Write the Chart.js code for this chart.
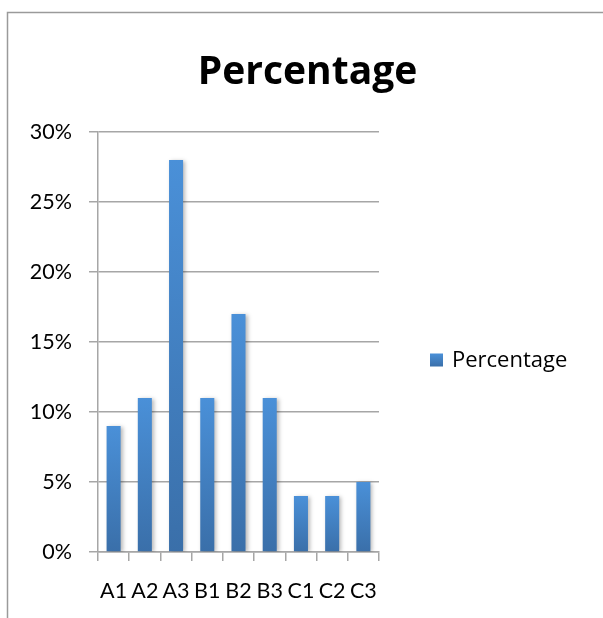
<!DOCTYPE html>
<html>
<head>
<meta charset="utf-8">
<script src="https://cdn.jsdelivr.net/npm/chart.js@4"></script>
<style>
  html, body { margin: 0; padding: 0; background: #ffffff; }
  #wrap { position: relative; width: 603px; height: 618px; }
</style>
</head>
<body>
<div id="wrap"><canvas id="c" width="603" height="618"></canvas></div>
<script>
const chartTitle = 'Percentage';
const seriesLabel = 'Percentage';
const categories = ['A1', 'A2', 'A3', 'B1', 'B2', 'B3', 'C1', 'C2', 'C3'];
const percentages = [9, 11, 28, 11, 17, 11, 4, 4, 5];
const yMin = 0;
const yMax = 30;
const yStep = 5;

const FONT = 'Lato, "Liberation Sans", sans-serif';
const TITLE_FONT = '"Open Sans", Lato, sans-serif';
const GRID = '#a6a6a6';
const BAR_TOP = '#4a90d8';
const BAR_BOTTOM = '#3a6fa9';

function barGradient(ctx) {
  const chart = ctx.chart;
  if (!chart.chartArea || ctx.type !== 'data') return BAR_TOP;
  const ys = chart.scales.y;
  const top = ys.getPixelForValue(ctx.raw);
  const bot = ys.getPixelForValue(0);
  const g = chart.ctx.createLinearGradient(0, top, 0, bot);
  g.addColorStop(0, BAR_TOP);
  g.addColorStop(1, BAR_BOTTOM);
  return g;
}

const framePlugin = {
  id: 'frame',
  beforeDraw(chart) {
    const c = chart.ctx;
    c.save();
    c.strokeStyle = '#9a9a9a';
    c.lineWidth = 1.5;
    c.strokeRect(7.5, 12.5, 800, 800);
    c.restore();
  }
};

const shadowPlugin = {
  id: 'barShadow',
  beforeDatasetsDraw(chart) {
    const c = chart.ctx;
    c.save();
    c.shadowColor = 'rgba(0,0,0,0.28)';
    c.shadowBlur = 4;
    c.shadowOffsetX = 2;
    c.shadowOffsetY = 1;
  },
  afterDatasetsDraw(chart) {
    chart.ctx.restore();
  }
};

const legendPlugin = {
  id: 'sideLegend',
  afterDraw(chart) {
    const c = chart.ctx;
    const area = chart.chartArea;
    const ds = chart.data.datasets[0];
    const bx = area.right + 51;
    const cy = 360;
    const size = 13;
    c.save();
    const g = c.createLinearGradient(0, cy - size / 2, 0, cy + size / 2);
    g.addColorStop(0, BAR_TOP);
    g.addColorStop(1, BAR_BOTTOM);
    c.fillStyle = g;
    c.fillRect(bx, cy - size / 2, size, size);
    c.fillStyle = '#000';
    c.font = '22px "Open Sans", Lato, sans-serif';
    c.textBaseline = 'middle';
    c.textAlign = 'left';
    c.fillText(ds.label, bx + size + 9, cy + 1);
    c.restore();
  }
};

new Chart(document.getElementById('c'), {
  type: 'bar',
  data: {
    labels: categories,
    datasets: [{
      label: seriesLabel,
      data: percentages,
      backgroundColor: barGradient,
      borderWidth: 0,
      categoryPercentage: 1.0,
      barPercentage: 0.45
    }]
  },
  options: {
    responsive: false,
    animation: false,
    devicePixelRatio: 1,
    layout: { padding: { left: 12, right: 0, top: 0, bottom: 0 } },
    plugins: {
      legend: { display: false },
      tooltip: { enabled: false },
      title: {
        display: true,
        text: chartTitle,
        color: '#000',
        font: { family: TITLE_FONT, size: 39, weight: 'bold', lineHeight: 1.2 },
        padding: { top: 49, bottom: 36.2 }
      }
    },
    scales: {
      x: {
        grid: {
          display: true,
          offset: true,
          drawOnChartArea: false,
          drawTicks: true,
          tickLength: 9,
          color: GRID,
          lineWidth: 1.5
        },
        border: { display: true, color: GRID, width: 1.5 },
        ticks: {
          color: '#000',
          font: { family: FONT, size: 21.5 },
          padding: 17,
          maxRotation: 0,
          autoSkip: false
        },
        afterFit(scale) { scale.height = 66; }
      },
      y: {
        min: yMin,
        max: yMax,
        grid: {
          color: GRID,
          lineWidth: 1.5,
          drawTicks: true,
          tickLength: 9
        },
        border: { display: true, color: GRID, width: 1.5 },
        ticks: {
          stepSize: yStep,
          color: '#000',
          font: { family: FONT, size: 21.5 },
          padding: 17,
          callback: (v) => v + '%'
        },
        afterFit(scale) { scale.width = 86; }
      },
      legendSpace: {
        type: 'linear',
        position: 'right',
        display: true,
        grid: { display: false, drawTicks: false },
        border: { display: false },
        ticks: { display: false },
        afterFit(scale) { scale.width = 224; }
      }
    }
  },
  plugins: [framePlugin, shadowPlugin, legendPlugin]
});
</script>
</body>
</html>
